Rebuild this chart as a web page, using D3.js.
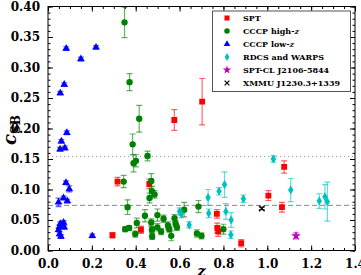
<!DOCTYPE html>
<html><head><meta charset="utf-8">
<script src="https://cdn.jsdelivr.net/npm/d3@7"></script>
<style>body{margin:0;background:#fff}svg{display:block}</style>
</head><body><div id="chart"></div>
<script>
// [z, c_SB, error]
const spt = [[0.576,0.214,0.017],[0.703,0.244,0.038],[0.317,0.113,0.007],[0.462,0.109,0.008],[0.424,0.034,0.006],[0.294,0.025,0.004],[0.770,0.060,0.007],[0.772,0.037,0.008],[0.776,0.031,0.008],[0.881,0.012,0.006],[1.005,0.090,0.008],[1.077,0.137,0.010],[1.067,0.071,0.008]];
const cccpHigh = [[0.349,0.374,0.025],[0.372,0.276,0.014],[0.416,0.216,0.022],[0.386,0.174,0.017],[0.390,0.143,0.014],[0.401,0.147,0.010],[0.454,0.155,0.008],[0.345,0.113,0.010],[0.471,0.114,0.012],[0.474,0.097,0.008],[0.486,0.092,0.006],[0.463,0.086,0.008],[0.363,0.071,0.012],[0.352,0.035,0.004],[0.370,0.037,0.004],[0.405,0.045,0.008],[0.398,0.027,0.005],[0.442,0.057,0.010],[0.471,0.046,0.006],[0.474,0.034,0.005],[0.475,0.023,0.005],[0.499,0.058,0.010],[0.499,0.038,0.006],[0.516,0.031,0.005],[0.527,0.052,0.006],[0.547,0.041,0.006],[0.553,0.035,0.005],[0.562,0.024,0.008],[0.577,0.053,0.006],[0.582,0.044,0.005],[0.588,0.038,0.005],[0.621,0.067,0.012],[0.686,0.072,0.010],[0.679,0.028,0.006],[0.700,0.024,0.005],[0.800,0.035,0.008]];
const cccpLow = [[0.083,0.331,0.003],[0.150,0.314,0.003],[0.219,0.333,0.003],[0.056,0.258,0.003],[0.074,0.272,0.003],[0.086,0.193,0.003],[0.061,0.179,0.003],[0.055,0.166,0.003],[0.077,0.168,0.003],[0.082,0.111,0.003],[0.097,0.101,0.005],[0.071,0.086,0.003],[0.048,0.079,0.007],[0.088,0.081,0.003],[0.056,0.044,0.003],[0.071,0.046,0.003],[0.053,0.039,0.003],[0.074,0.038,0.003],[0.048,0.034,0.003],[0.053,0.027,0.003],[0.059,0.023,0.003],[0.202,0.024,0.003]];
const rdcs = [[1.028,0.150,0.005],[1.107,0.099,0.019],[1.237,0.081,0.012],[1.263,0.088,0.020],[1.274,0.080,0.032],[0.891,0.085,0.006],[0.805,0.108,0.021],[0.780,0.097,0.006],[0.730,0.087,0.013],[0.733,0.061,0.007],[0.811,0.064,0.013],[0.835,0.050,0.012],[0.834,0.026,0.006],[0.644,0.042,0.005],[0.600,0.064,0.006],[0.608,0.060,0.006]];
const sptCl = [[1.131,0.024,0.005]];
const xmmu = [[0.975,0.069,0.002]];
const refLines = [0.154, 0.074];
const xTicks = [0.0,0.2,0.4,0.6,0.8,1.0,1.2,1.4];
const yTicks = [0.00,0.05,0.10,0.15,0.20,0.25,0.30,0.35,0.40];
const legendLabels = ["SPT","CCCP high-z","CCCP low-z","RDCS and WARPS","SPT-CL J2106-5844","XMMU J1230.3+1339"];

const W=361,H=275;
const m={l:48,r:6,t:6.5,b:24.5};
const svg=d3.select("#chart").append("svg").attr("width",W).attr("height",H);
const x=d3.scaleLinear().domain([0,1.4]).range([m.l,W-m.r]);
const y=d3.scaleLinear().domain([0,0.4]).range([H-m.b,m.t]);
const font="'DejaVu Serif', serif";

svg.append("defs").append("clipPath").attr("id","clip").append("rect")
  .attr("x",m.l).attr("y",m.t).attr("width",W-m.l-m.r).attr("height",H-m.t-m.b);

// reference lines
svg.append("line").attr("x1",x(0)).attr("x2",x(1.4)).attr("y1",y(refLines[0])).attr("y2",y(refLines[0]))
  .attr("stroke","#999").attr("stroke-dasharray","1,3").attr("stroke-width",1);
svg.append("line").attr("x1",x(0)).attr("x2",x(1.4)).attr("y1",y(refLines[1])).attr("y2",y(refLines[1]))
  .attr("stroke","#888").attr("stroke-dasharray","5,3").attr("stroke-width",1);

const diamond={draw(ctx,size){const h=Math.sqrt(size)*0.75,w=h*0.6;ctx.moveTo(0,-h);ctx.lineTo(w,0);ctx.lineTo(0,h);ctx.lineTo(-w,0);ctx.closePath();}};
const series=[
  {data:spt,color:"#ff0000",sym:d3.symbolSquare,size:34},
  {data:cccpHigh,color:"#008000",sym:d3.symbolCircle,size:32},
  {data:cccpLow,color:"#0000ff",sym:d3.symbolTriangle,size:26},
  {data:rdcs,color:"#00bfbf",sym:diamond,size:36},
  {data:sptCl,color:"#bf00bf",sym:d3.symbolStar,size:30},
  {data:xmmu,color:"#000000",sym:d3.symbolX,size:22,stroke:true}
];
const g=svg.append("g").attr("clip-path","url(#clip)");
series.forEach(s=>{
  const eg=g.append("g").attr("stroke",s.color).attr("stroke-opacity",0.6).attr("stroke-width",1.2);
  s.data.forEach(d=>{
    const px=x(d[0]),y1=y(d[1]-d[2]),y2=y(d[1]+d[2]);
    eg.append("line").attr("x1",px).attr("x2",px).attr("y1",y1).attr("y2",y2);
    eg.append("line").attr("x1",px-3).attr("x2",px+3).attr("y1",y1).attr("y2",y1);
    eg.append("line").attr("x1",px-3).attr("x2",px+3).attr("y1",y2).attr("y2",y2);
  });
  g.append("g").selectAll("path").data(s.data).join("path")
    .attr("transform",d=>`translate(${x(d[0])},${y(d[1])})`)
    .attr("d",d3.symbol(s.sym,s.size))
    .attr("fill",s.stroke?"none":s.color)
    .attr("stroke",s.stroke?s.color:"none").attr("stroke-width",1.3);
});

// axes with inward ticks on all sides
function addAxis(axis,tr,labels){
  const a=svg.append("g").attr("transform",tr).call(axis);
  a.select(".domain").remove();
  a.selectAll("line").attr("stroke","#000");
  if(!labels) a.selectAll("text").remove();
  else a.selectAll("text").attr("font-family",font).attr("font-weight","bold").attr("font-size",12).attr("fill","#000");
  return a;
}
const xMinor=d3.range(0,1.4001,0.05), yMinor=d3.range(0,0.4001,0.01);
const b=H-m.b,t=m.t,l=m.l,r=W-m.r;
addAxis(d3.axisBottom(x).tickValues(xMinor).tickSize(-2.5).tickFormat(""),`translate(0,${b})`,false);
addAxis(d3.axisTop(x).tickValues(xMinor).tickSize(-2.5).tickFormat(""),`translate(0,${t})`,false);
addAxis(d3.axisLeft(y).tickValues(yMinor).tickSize(-2.5).tickFormat(""),`translate(${l},0)`,false);
addAxis(d3.axisRight(y).tickValues(yMinor).tickSize(-2.5).tickFormat(""),`translate(${r},0)`,false);
addAxis(d3.axisBottom(x).tickValues(xTicks).tickSize(-5).tickPadding(9).tickFormat(d3.format(".1f")),`translate(0,${b})`,true);
addAxis(d3.axisTop(x).tickValues(xTicks).tickSize(-5).tickFormat(""),`translate(0,${t})`,false);
addAxis(d3.axisLeft(y).tickValues(yTicks).tickSize(-5).tickPadding(8).tickFormat(d3.format(".2f")),`translate(${l},0)`,true);
addAxis(d3.axisRight(y).tickValues(yTicks).tickSize(-5).tickFormat(""),`translate(${r},0)`,false);

svg.append("rect").attr("x",l).attr("y",t).attr("width",r-l).attr("height",b-t)
  .attr("fill","none").attr("stroke","#000").attr("stroke-width",1);

// axis labels
const yl=svg.append("text").attr("transform",`translate(16,130) rotate(-90)`)
  .attr("font-family",font).attr("font-weight","bold").attr("text-anchor","middle");
yl.append("tspan").attr("font-style","italic").attr("font-size",18).text("c");
yl.append("tspan").attr("font-size",12).attr("dy",4).text("SB");
svg.append("text").attr("x",x(0.7)).attr("y",H+1).attr("text-anchor","middle")
  .attr("font-family",font).attr("font-style","italic").attr("font-weight","bold").attr("font-size",15).text("z");

// legend
const lg=svg.append("g");
lg.append("rect").attr("x",212.5).attr("y",11).attr("width",138).attr("height",80.5)
  .attr("fill","#fff").attr("stroke","#555").attr("stroke-width",1);
legendLabels.forEach((lab,i)=>{
  const s=series[i], yy=18+i*13;
  lg.append("path").attr("transform",`translate(227,${yy})`).attr("d",d3.symbol(s.sym,s.size*0.75))
    .attr("fill",s.stroke?"none":s.color).attr("stroke",s.stroke?s.color:"none").attr("stroke-width",1.2);
  const tx=lg.append("text").attr("x",243).attr("y",yy+3).attr("font-family",font)
    .attr("font-weight","bold").attr("font-size",8).attr("fill","#000");
  if(lab.endsWith("-z")){tx.append("tspan").text(lab.slice(0,-1));tx.append("tspan").attr("font-style","italic").text("z");}
  else tx.text(lab);
});
</script></body></html>
